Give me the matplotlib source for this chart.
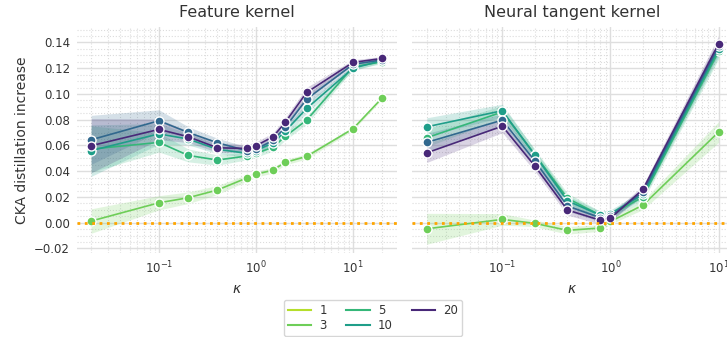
import numpy as np
import matplotlib
matplotlib.use("Agg")
import matplotlib.pyplot as plt
from matplotlib.lines import Line2D
from matplotlib.ticker import MultipleLocator, AutoMinorLocator, LogLocator, NullFormatter

# ---------------- data ----------------
kappa_feat = [0.02, 0.1, 0.2, 0.4, 0.8, 1.0, 1.5, 2.0, 3.33, 10.0, 20.0]
kappa_ntk = [0.02, 0.1, 0.2, 0.4, 0.8, 1.0, 2.0, 10.0]

legend_levels = [1, 3, 5, 10, 20]
legend_colors = ["#b5de2b", "#6ece58", "#35b779", "#1f9e89", "#482878"]

series_levels = [3, 5, 10, 15, 20]
series_colors = ["#6ece58", "#35b779", "#1f9e89", "#31688e", "#482878"]

feat_mean = {
    3:  [0.0013, 0.0155, 0.0194, 0.0254, 0.0347, 0.0376, 0.0409, 0.0469, 0.0515, 0.0730, 0.0970],
    5:  [0.0572, 0.0624, 0.0523, 0.0487, 0.0518, 0.0538, 0.0587, 0.0670, 0.0797, 0.1210, 0.1250],
    10: [0.0560, 0.0690, 0.0650, 0.0570, 0.0540, 0.0560, 0.0620, 0.0710, 0.0888, 0.1200, 0.1260],
    15: [0.0644, 0.0792, 0.0701, 0.0621, 0.0560, 0.0570, 0.0640, 0.0740, 0.0960, 0.1230, 0.1265],
    20: [0.0598, 0.0725, 0.0668, 0.0582, 0.0577, 0.0598, 0.0668, 0.0779, 0.1012, 0.1245, 0.1276],
}
feat_ci = {
    3:  [0.0095, 0.0055, 0.0045, 0.0035, 0.0025, 0.0022, 0.0022, 0.0020, 0.0020, 0.0012, 0.0010],
    5:  [0.0180, 0.0075, 0.0050, 0.0040, 0.0030, 0.0030, 0.0030, 0.0030, 0.0030, 0.0020, 0.0015],
    10: [0.0200, 0.0080, 0.0045, 0.0035, 0.0030, 0.0030, 0.0030, 0.0035, 0.0040, 0.0020, 0.0015],
    15: [0.0190, 0.0085, 0.0045, 0.0035, 0.0030, 0.0030, 0.0030, 0.0035, 0.0040, 0.0020, 0.0015],
    20: [0.0210, 0.0080, 0.0045, 0.0035, 0.0030, 0.0030, 0.0030, 0.0035, 0.0040, 0.0020, 0.0015],
}

ntk_mean = {
    3:  [-0.0047, 0.0026, -0.0005, -0.0059, -0.0041, 0.0010, 0.0137, 0.0704],
    5:  [0.0660, 0.0860, 0.0530, 0.0190, 0.0060, 0.0060, 0.0200, 0.1330],
    10: [0.0745, 0.0870, 0.0525, 0.0170, 0.0060, 0.0070, 0.0220, 0.1350],
    15: [0.0624, 0.0797, 0.0480, 0.0130, 0.0040, 0.0050, 0.0240, 0.1370],
    20: [0.0543, 0.0750, 0.0440, 0.0099, 0.0020, 0.0034, 0.0260, 0.1390],
}
ntk_ci = {
    3:  [0.0120, 0.0045, 0.0025, 0.0030, 0.0025, 0.0020, 0.0035, 0.0080],
    5:  [0.0070, 0.0050, 0.0040, 0.0040, 0.0030, 0.0030, 0.0030, 0.0060],
    10: [0.0070, 0.0050, 0.0040, 0.0040, 0.0030, 0.0030, 0.0030, 0.0060],
    15: [0.0070, 0.0050, 0.0040, 0.0040, 0.0030, 0.0030, 0.0030, 0.0060],
    20: [0.0075, 0.0050, 0.0040, 0.0040, 0.0030, 0.0030, 0.0030, 0.0060],
}

titles = ["Feature kernel", "Neural tangent kernel"]
y_label = "CKA distillation increase"
x_label = "$\\kappa$"

# ---------------- plot ----------------
plt.rcParams["font.family"] = ["DejaVu Sans"]
plt.rcParams["axes.unicode_minus"] = True
fig = plt.figure(figsize=(7.27, 3.37), dpi=100)
W, H = 727, 337
ax1 = fig.add_axes([77 / W, 1 - 253 / H, 320 / W, 226 / H])
ax2 = fig.add_axes([412 / W, 1 - 253 / H, 321 / W, 226 / H], sharey=ax1)

panels = [(ax1, kappa_feat, feat_mean, feat_ci), (ax2, kappa_ntk, ntk_mean, ntk_ci)]
for ax, xs, means, cis in panels:
    ax.set_xscale("log")
    ax.set_facecolor("white")
    for s in ax.spines.values():
        s.set_visible(False)
    ax.grid(True, which="major", color="#dedede", lw=1.0, zorder=0)
    ax.grid(True, which="minor", color="#dcdcdc", lw=0.8, ls=":", zorder=0)
    ax.set_axisbelow(True)
    for lvl, col in zip(series_levels, series_colors):
        m = np.array(means[lvl])
        c = np.array(cis[lvl])
        ax.fill_between(xs, m - c, m + c, color=col, alpha=0.2, lw=0)
        ax.plot(xs, m, color=col, lw=1.2, marker="o", ms=6.5, mec="white", mew=1.0)
    ax.axhline(0, color="orange", ls=":", lw=2, zorder=5)
    ax.tick_params(axis="both", which="both", length=0, labelsize=8.5, colors="#333333", pad=5)
    ax.xaxis.set_minor_locator(LogLocator(base=10, subs=np.arange(2, 10), numticks=20))
    ax.xaxis.set_minor_formatter(NullFormatter())
    ax.set_xlabel(x_label, fontsize=10, color="#333333")

ax1.set_xlim(0.0143, 28.4)
ax2.set_xlim(0.0146, 13.6)
ax1.set_ylim(-0.0235, 0.152)
ax1.yaxis.set_major_locator(MultipleLocator(0.02))
ax1.yaxis.set_minor_locator(AutoMinorLocator(4))
ax1.yaxis.set_major_formatter(matplotlib.ticker.FuncFormatter(lambda v, p: f"{v:.2f}".replace("-", "\u2212")))
plt.setp(ax2.get_yticklabels(), visible=False)
ax1.set_ylabel(y_label, fontsize=10, color="#333333")
ax1.set_title(titles[0], fontsize=11.5, color="#333333", pad=7)
ax2.set_title(titles[1], fontsize=11.5, color="#333333", pad=7)

handles = [Line2D([], [], color=c, lw=1.5) for c in legend_colors]
leg = fig.legend(handles, [str(v) for v in legend_levels], ncol=3, loc="upper center",
                 bbox_to_anchor=(373 / W, 1 - 300 / H), borderaxespad=0.0,
                 fontsize=8.5, frameon=True,
                 handlelength=2.0, handletextpad=0.7, columnspacing=1.6,
                 labelspacing=0.15, borderpad=0.35)
leg.get_frame().set_edgecolor("#cccccc")
for t in leg.get_texts():
    t.set_color("#333333")

fig.savefig("out.png", dpi=100)
